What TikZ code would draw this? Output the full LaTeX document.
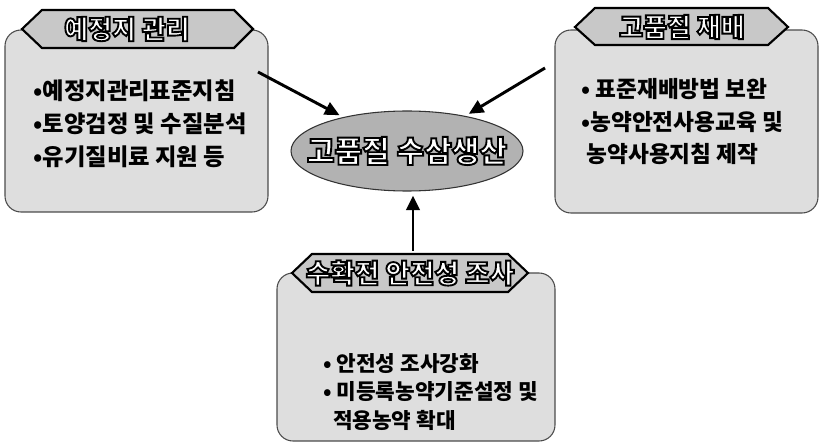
\documentclass[tikz,border=0pt]{standalone}
\usepackage{fontspec}
\setmainfont{Noto Sans CJK KR}
\usetikzlibrary{arrows.meta,shapes.geometric,calc}
\definecolor{boxfill}{RGB}{222,222,222}
\definecolor{banfill}{RGB}{200,200,200}
\newcommand\outl[1]{\special{pdf:literal direct 0 G 1.4 w 2 Tr}#1\special{pdf:literal direct 0 Tr}}
\tikzset{
  panel/.style={draw=black!70, line width=0.8pt, rounded corners=12pt, fill=boxfill},
  banner/.style={draw=black, line width=1.6pt, fill=banfill},
  bantext/.style={font=\fontsize{19.5pt}{20pt}\selectfont\bfseries, text=white},
  body/.style={font=\fontsize{17.5pt}{25pt}\selectfont\bfseries, align=left, anchor=north west, inner sep=0pt},
  bigarrow/.style={line width=2.2pt, -{Triangle[length=11pt,width=10pt]}, shorten >=3pt},
}
\begin{document}
\begin{tikzpicture}[x=0.75pt,y=-0.75pt]
\useasboundingbox (0,0) rectangle (821,445);
% panels
\draw[panel] (5,30) rectangle (268,212);
\draw[panel] (555,30) rectangle (818,213);
\draw[panel] (277,273) rectangle (555,441);
% banners
\draw[banner] (22,29) -- (42,10) -- (234,10) -- (253,29) -- (234,48) -- (42,48) -- cycle;
\draw[banner] (575,27) -- (595,8) -- (768,8) -- (788,27) -- (768,45) -- (595,45) -- cycle;
\draw[banner] (292,273) -- (312,254) -- (508,254) -- (528,273) -- (508,292) -- (312,292) -- cycle;
\node[bantext] (t1) at (127,29) {\outl{예정지 관리}};
\node[bantext] (t2) at (682,27) {\outl{고품질 재배}};
\node[bantext, font=\fontsize{20pt}{20pt}\selectfont\bfseries] (t3) at (410,273) {\outl{수확전 안전성 조사}};
% texts
\node[body] (b1) at (33,79) {•예정지관리표준지침\\•토양검정 및 수질분석\\•유기질비료 지원 등};
\node[body, font=\fontsize{17pt}{24.5pt}\selectfont\bfseries] (b2) at (581,78) {• 표준재배방법 보완\\•농약안전사용교육 및\\\ 농약사용지침 제작};
\node[body, font=\fontsize{16pt}{21.5pt}\selectfont\bfseries] (b3) at (323,353) {• 안전성 조사강화\\• 미등록농약기준설정 및\\\ \ 적용농약 확대};
% center ellipse
\node[ellipse, draw=black!80, line width=0.8pt, fill=black!30, minimum width=174pt, minimum height=60pt, inner sep=0pt] (ell) at (407,151) {};
\node[bantext, font=\fontsize{22.5pt}{22pt}\selectfont\bfseries] (ct) at (ell.center) {\outl{고품질 수삼생산}};
% arrows
\coordinate (la) at (258,72);
\coordinate (ra) at (545,68);
\coordinate (ba) at (413,251);
\draw[bigarrow] (la) -- (ell);
\draw[bigarrow] (ra) -- (ell);
\draw[bigarrow] (ba) -- (ba |- ell.south);
\end{tikzpicture}
\end{document}
